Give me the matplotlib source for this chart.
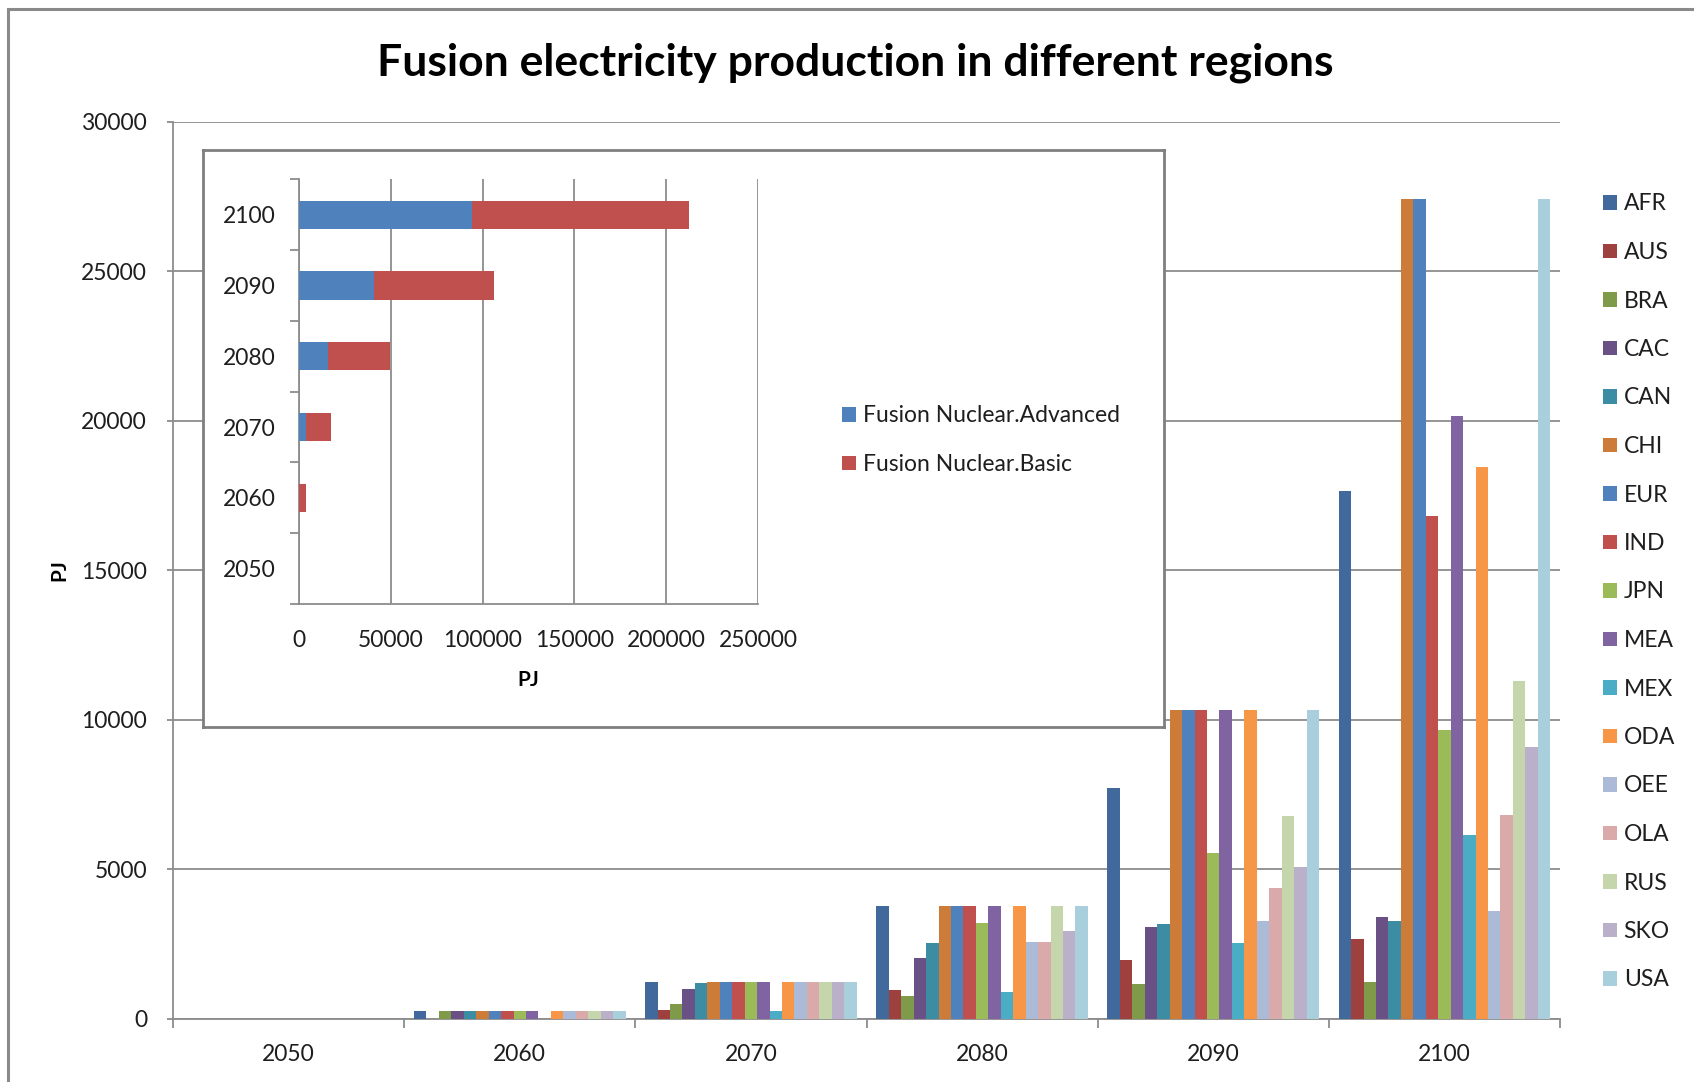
import numpy as np
import matplotlib
matplotlib.use("Agg")
import matplotlib.pyplot as plt
from matplotlib.lines import Line2D

plt.rcParams['font.family'] = ['Lato', 'DejaVu Sans']

W, H = 1694, 1082

years = ["2050", "2060", "2070", "2080", "2090", "2100"]

regions = ["AFR", "AUS", "BRA", "CAC", "CAN", "CHI", "EUR", "IND", "JPN",
           "MEA", "MEX", "ODA", "OEE", "OLA", "RUS", "SKO", "USA"]

# PJ per region, one value per year (2050 .. 2100)
AFR = [0, 256, 1237, 3760, 7710, 17660]
AUS = [0, 0, 300, 970, 1960, 2660]
BRA = [0, 256, 480, 760, 1150, 1210]
CAC = [0, 256, 980, 2040, 3050, 3380]
CAN = [0, 256, 1190, 2520, 3170, 3250]
CHI = [0, 256, 1237, 3760, 10330, 27410]
EUR = [0, 256, 1237, 3760, 10330, 27410]
IND = [0, 256, 1237, 3760, 10330, 16810]
JPN = [0, 256, 1237, 3200, 5540, 9660]
MEA = [0, 256, 1237, 3760, 10330, 20170]
MEX = [0, 0, 256, 890, 2520, 6130]
ODA = [0, 256, 1237, 3760, 10330, 18440]
OEE = [0, 256, 1237, 2550, 3260, 3600]
OLA = [0, 256, 1237, 2550, 4380, 6820]
RUS = [0, 256, 1237, 3760, 6780, 11290]
SKO = [0, 256, 1237, 2940, 5070, 9080]
USA = [0, 256, 1237, 3760, 10330, 27410]
series = [AFR, AUS, BRA, CAC, CAN, CHI, EUR, IND, JPN, MEA, MEX, ODA,
          OEE, OLA, RUS, SKO, USA]

colors = ["#41699C", "#9E413E", "#7F9A48", "#695185", "#3C8DA3", "#CC7B38",
          "#4F81BD", "#C0504D", "#9BBB59", "#8064A2", "#4BACC6", "#F79646",
          "#AABAD7", "#D9AAA9", "#C6D6AC", "#BAB0C9", "#A9CEDC"]

# totals by technology for the small chart
advanced = [0, 0, 3880, 15750, 40770, 94480]
basic = [0, 3670, 13810, 33650, 65570, 118200]

grid_c = "#8C8C8C"
text_c = "#1E1E1E"
fs = 16.5

fig = plt.figure(figsize=(W / 100, H / 100), dpi=100)

# outer chart frame (right and bottom run off the image)
fig.add_artist(Line2D([8 / W, 8 / W], [1 - 9 / H, -0.1], color="#8A8A8A", lw=2.2))
fig.add_artist(Line2D([8 / W, 1.1], [1 - 9 / H, 1 - 9 / H], color="#8A8A8A", lw=2.2))

fig.text(855 / W, 1 - 63 / H, "Fusion electricity production in different regions",
         ha="center", va="center", fontsize=32, fontweight="bold", color="black")

# ---- main grouped bar chart ----
ax = fig.add_axes([173 / W, 1 - 1018.5 / H, (1560 - 173) / W, (1018.5 - 121.7) / H])
x = np.arange(len(years))
n = len(regions)
bw = 0.915 / n
for i, (name, vals, c) in enumerate(zip(regions, series, colors)):
    ax.bar(x - 0.4575 + bw * (i + 0.5), vals, width=bw, color=c, label=name,
           linewidth=0, zorder=3)

ax.set_xlim(-0.5, len(years) - 0.5)
ax.set_ylim(0, 30000)
ax.set_yticks(np.arange(0, 30001, 5000))
ax.yaxis.grid(True, color=grid_c, lw=1.3, zorder=0)
ax.set_axisbelow(True)
for s in ["top", "right"]:
    ax.spines[s].set_visible(False)
for s in ["left", "bottom"]:
    ax.spines[s].set_color(grid_c)
    ax.spines[s].set_linewidth(1.3)
ax.set_xticks(x)
ax.set_xticklabels(years)
ax.set_xticks(np.arange(-0.5, len(years)), minor=True)
ax.tick_params(axis="x", which="major", length=0, pad=18.5, labelsize=fs, labelcolor=text_c)
ax.tick_params(axis="x", which="minor", length=6.5, width=1.3, color=grid_c)
ax.tick_params(axis="y", length=4.3, width=1.3, color=grid_c, pad=14.4,
               labelsize=fs, labelcolor=text_c)

fig.text(59 / W, 1 - 570 / H, "PJ", rotation=90, ha="center", va="center",
         fontsize=15, fontweight="bold", color="black")

ax.legend(loc="upper left", bbox_to_anchor=(1603 / W, 1 - 193.5 / H),
          bbox_transform=fig.transFigure, frameon=False, fontsize=fs,
          handlelength=0.61, handleheight=0.61, handletextpad=0.29,
          labelspacing=1.2, borderpad=0, borderaxespad=0, labelcolor=text_c)

# ---- inset: stacked horizontal bars ----
box = fig.add_axes([203 / W, 1 - 727 / H, (1164 - 203) / W, (727 - 150) / H], zorder=3)
box.set_xticks([])
box.set_yticks([])
box.set_facecolor("white")
for s in box.spines.values():
    s.set_color("#7F7F7F")
    s.set_linewidth(2)

iax = fig.add_axes([299 / W, 1 - 604 / H, (758 - 299) / W, (604 - 179.4) / H], zorder=4)
iax.set_facecolor("none")
y = np.arange(len(years))
iax.barh(y, advanced, height=0.4, color="#4F81BD", label="Fusion Nuclear.Advanced",
         linewidth=0, zorder=3)
iax.barh(y, basic, left=advanced, height=0.4, color="#C0504D",
         label="Fusion Nuclear.Basic", linewidth=0, zorder=3)
iax.set_xlim(0, 250000)
iax.set_ylim(-0.5, len(years) - 0.5)
iax.set_xticks(np.arange(0, 250001, 50000))
iax.xaxis.grid(True, color=grid_c, lw=1.3, zorder=0)
iax.set_axisbelow(True)
for s in ["top", "right"]:
    iax.spines[s].set_visible(False)
for s in ["left", "bottom"]:
    iax.spines[s].set_color(grid_c)
    iax.spines[s].set_linewidth(1.3)
iax.set_yticks(y)
iax.set_yticklabels(years)
iax.set_yticks(np.arange(-0.5, len(years)), minor=True)
iax.tick_params(axis="y", which="major", length=0, pad=17, labelsize=fs, labelcolor=text_c)
iax.tick_params(axis="y", which="minor", length=6.5, width=1.3, color=grid_c)
iax.tick_params(axis="x", length=0, pad=18.5, labelsize=fs, labelcolor=text_c)
iax.set_xlabel("PJ", fontsize=15, fontweight="bold", labelpad=14)

iax.legend(loc="upper left", bbox_to_anchor=(842 / W, 1 - 405.5 / H),
           bbox_transform=fig.transFigure, frameon=False, fontsize=fs,
           handlelength=0.61, handleheight=0.61, handletextpad=0.29,
           labelspacing=1.2, borderpad=0, borderaxespad=0, labelcolor=text_c)

fig.savefig("out.png", dpi=100, facecolor="white")
